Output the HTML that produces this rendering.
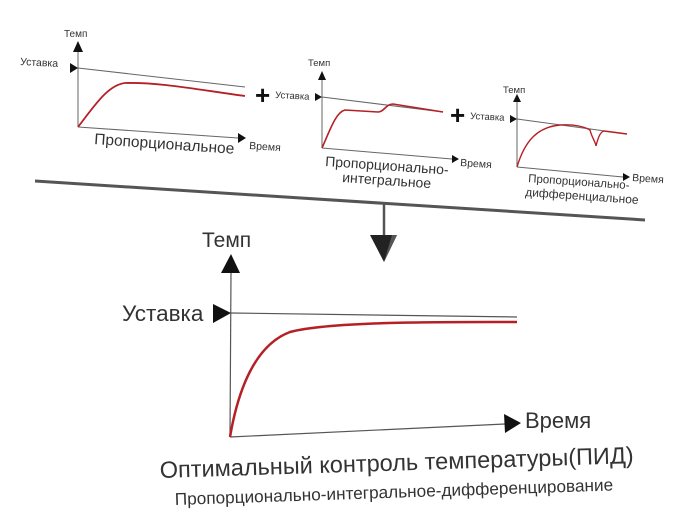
<!DOCTYPE html>
<html><head><meta charset="utf-8"><style>
html,body{margin:0;padding:0;background:#fff;width:687px;height:532px;overflow:hidden}
svg{display:block}
text{font-family:"Liberation Sans","DejaVu Sans",sans-serif;fill:#333}
</style></head><body>
<svg width="687" height="532" viewBox="0 0 687 532">
<!-- Chart 1 -->
<g stroke="#666" stroke-width="1" fill="none">
<line x1="78" y1="127" x2="78" y2="52"/>
<line x1="78" y1="68" x2="245" y2="87"/>
<line x1="78" y1="127" x2="238" y2="138"/>
</g>
<polygon points="73,52 83,52 78,41" fill="#111"/>
<polygon points="70,63 70,73 78,68" fill="#111"/>
<polygon points="238,133 238,143 246,138" fill="#111"/>
<path d="M78,127 C95,105 108,85 125,83 C160,82 200,90 245,96" stroke="#b52025" stroke-width="1.8" fill="none"/>
<text x="64" y="37" font-size="10">Темп</text>
<text x="20" y="65" font-size="10.5" transform="rotate(3 20 65)">Уставка</text>
<text x="249" y="149" font-size="10.5" transform="rotate(4 249 149)">Время</text>
<text x="94" y="144" font-size="15.5" transform="rotate(4 94 144)">Пропорциональное</text>
<text x="255" y="104" font-size="26" font-weight="bold" style="fill:#111">+</text>

<!-- Chart 2 -->
<g stroke="#666" stroke-width="1" fill="none">
<line x1="322" y1="148" x2="322" y2="80"/>
<line x1="322" y1="97" x2="443" y2="112"/>
<line x1="322" y1="148" x2="452" y2="159"/>
</g>
<polygon points="318,80 326,80 322,71" fill="#111"/>
<polygon points="315,93 315,101 322,97" fill="#111"/>
<polygon points="452,155 452,163 459,159" fill="#111"/>
<path d="M322,148 C330,130 336,112 345,110 L378,112 C384,112 386,104 393,104 L443,112" stroke="#b52025" stroke-width="1.6" fill="none"/>
<text x="308" y="66" font-size="9.5">Темп</text>
<text x="275" y="98" font-size="9.5" transform="rotate(3 275 98)">Уставка</text>
<text x="460" y="166" font-size="10.5" transform="rotate(4 460 166)">Время</text>
<text x="325" y="166" font-size="14" transform="rotate(4 325 166)">Пропорционально-</text>
<text x="342" y="182" font-size="14" transform="rotate(4 342 182)">интегральное</text>
<text x="450" y="124" font-size="26" font-weight="bold" style="fill:#111">+</text>

<!-- Chart 3 -->
<g stroke="#666" stroke-width="1" fill="none">
<line x1="517" y1="167" x2="517" y2="102"/>
<line x1="517" y1="119" x2="627" y2="134"/>
<line x1="517" y1="167" x2="623" y2="177"/>
</g>
<polygon points="513,102 521,102 517,94" fill="#111"/>
<polygon points="510,115 510,123 517,119" fill="#111"/>
<polygon points="623,173 623,181 630,177" fill="#111"/>
<path d="M517,167 C525,140 538,127 560,125 C575,124 585,127 590,130 C592,138 596,143 596,146 C598,138 600,132 604,131 L627,134" stroke="#b52025" stroke-width="1.4" fill="none"/>
<text x="503" y="93" font-size="9.5">Темп</text>
<text x="470" y="119" font-size="9.5" transform="rotate(3 470 119)">Уставка</text>
<text x="632" y="181" font-size="10.5" transform="rotate(4 632 181)">Время</text>
<text x="528" y="182" font-size="11.5" transform="rotate(4 528 182)">Пропорционально-</text>
<text x="525" y="196" font-size="12" transform="rotate(4 525 196)">дифференциальное</text>

<!-- divider -->
<line x1="35" y1="181" x2="645" y2="220" stroke="#555" stroke-width="3"/>
<line x1="384" y1="203" x2="384" y2="240" stroke="#555" stroke-width="2.5"/>
<polygon points="370,235 397,235 384,262" fill="#222"/>
<polygon points="384,262 397,235 392,235" fill="#555"/>

<!-- Bottom chart -->
<g stroke="#555" stroke-width="1.2" fill="none">
<line x1="230" y1="437" x2="231" y2="272"/>
<line x1="231" y1="313" x2="517" y2="317"/>
<line x1="230" y1="437" x2="505" y2="424"/>
</g>
<polygon points="221,273 240,273 231,254" fill="#111"/>
<polygon points="213,304 213,323 231,313" fill="#111"/>
<polygon points="504,414 505,433 521,423" fill="#111"/>
<path d="M230,437 C238,390 255,345 290,332 C330,321 450,322 517,322" stroke="#b52025" stroke-width="2.5" fill="none"/>
<text x="202" y="247" font-size="21">Темп</text>
<text x="122" y="321" font-size="22.5">Уставка</text>
<text x="525" y="428" font-size="22">Время</text>
<text x="160" y="478" font-size="23.5" transform="rotate(-1.8 160 478)">Оптимальный контроль температуры(ПИД)</text>
<text x="175" y="505" font-size="17.2" transform="rotate(-1.9 175 505)">Пропорционально-интегральное-дифференцирование</text>
</svg>
</body></html>
